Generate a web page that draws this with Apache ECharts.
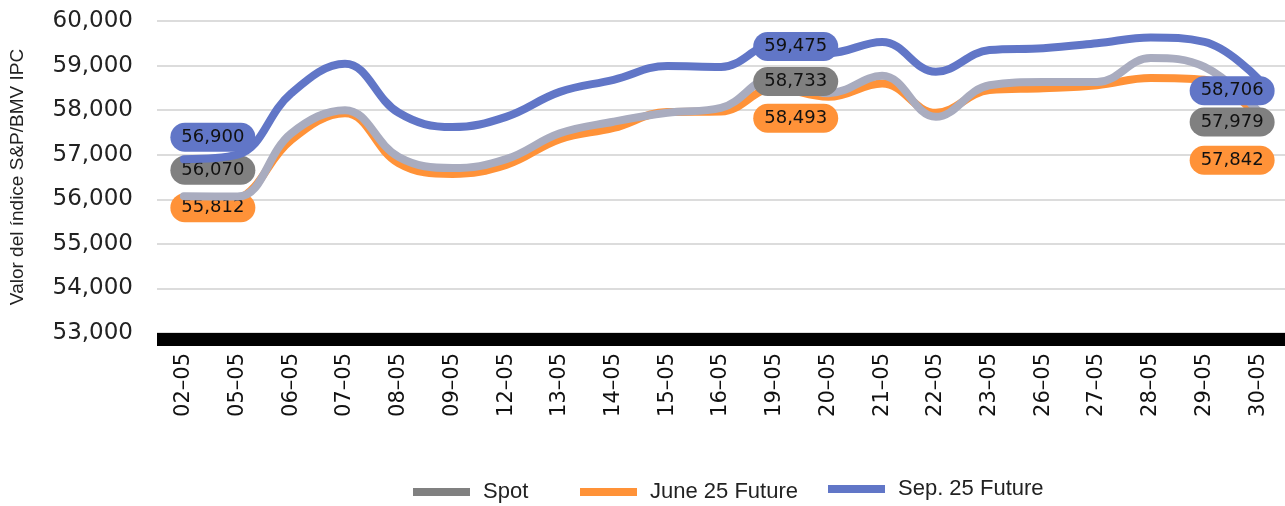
<!DOCTYPE html>
<html>
<head>
<meta charset="utf-8">
<script src="https://cdn.jsdelivr.net/npm/echarts@6/dist/echarts.min.js"></script>
<style>
html,body{margin:0;padding:0;background:#fff;}
#chart{width:1285px;height:506px;}
</style>
</head>
<body>
<div id="chart"></div>
<script>
const dates = ['02–05','05–05','06–05','07–05','08–05','09–05','12–05','13–05','14–05','15–05','16–05','19–05','20–05','21–05','22–05','23–05','26–05','27–05','28–05','29–05','30–05'];
const spot = [56070, 56060, 57480, 58000, 56950, 56700, 56900, 57480, 57740, 57940, 58050, 58733, 58380, 58770, 57850, 58560, 58630, 58630, 59170, 58970, 57979];
const june25 = [55812, 55990, 57330, 57930, 56810, 56570, 56770, 57350, 57600, 57960, 57970, 58493, 58300, 58600, 57940, 58450, 58490, 58560, 58720, 58680, 57842];
const sep25 = [56900, 57000, 58380, 59040, 57940, 57620, 57850, 58410, 58680, 58990, 58970, 59475, 59280, 59530, 58860, 59350, 59390, 59500, 59630, 59530, 58706];
const yTicks = [53000, 54000, 55000, 56000, 57000, 58000, 59000, 60000];
const seriesNames = ['Spot', 'June 25 Future', 'Sep. 25 Future'];

const COL = {
  spotLine: '#A9ACBF', spotTag: '#808080',
  june: '#FF9238', sep: '#6176C7'
};
const labelIdx = [0, 11, dates.length - 1];
const offsets = {
  spot: [[29, -26], [21, 4], [-26, 11]],
  june: [[29, 0], [21, 30], [-26, 43]],
  sep: [[29, -22], [21, 2], [-26, 12]]
};
function fmt(v) { return v.toLocaleString('en-US'); }
function buildData(values, offs, bg) {
  return values.map((v, i) => {
    const k = labelIdx.indexOf(i);
    if (k < 0) return v;
    return {
      value: v,
      label: {
        show: true, position: 'inside', offset: offs[k],
        formatter: p => fmt(p.value),
        backgroundColor: bg, borderRadius: 15,
        padding: [5, 11], lineHeight: 19,
        color: '#111', fontFamily: 'DejaVu Sans', fontSize: 18
      }
    };
  });
}
function lineSeries(name, values, lineColor, tagColor, offs, z) {
  return {
    name: name, type: 'line', smooth: 0.4, z: z,
    symbol: 'circle', symbolSize: 0.1, showSymbol: true,
    itemStyle: { color: tagColor },
    lineStyle: { color: lineColor, width: 8, cap: 'round', join: 'round' },
    label: { show: false },
    emphasis: { disabled: true },
    data: buildData(values, offs, tagColor)
  };
}
function legendAt(name, color, left, top) {
  return {
    data: [{ name: name, itemStyle: { color: color } }],
    left: left, top: top, padding: 0,
    icon: 'rect', itemWidth: 57, itemHeight: 8,
    selectedMode: false,
    textStyle: { fontFamily: 'Liberation Sans', fontSize: 22, color: '#222', padding: [0, 0, 0, 8] }
  };
}
const chart = echarts.init(document.getElementById('chart'), null, { renderer: 'canvas' });
chart.setOption({
  animation: false,
  backgroundColor: '#fff',
  grid: { left: 157, right: 0, top: 21, bottom: 173, containLabel: false },
  legend: [
    legendAt(seriesNames[0], COL.spotTag, 413, 481),
    legendAt(seriesNames[1], COL.june, 580, 481),
    legendAt(seriesNames[2], COL.sep, 828, 478)
  ],
  xAxis: {
    type: 'category', data: dates, boundaryGap: true, offset: 6,
    axisLine: { show: true, lineStyle: { color: '#000', width: 13, cap: 'butt' } },
    axisTick: { show: false },
    axisLabel: { rotate: 90, margin: 14, interval: 0, fontFamily: 'DejaVu Sans', fontSize: 21, color: '#111' }
  },
  yAxis: {
    type: 'value', min: yTicks[0], max: yTicks[yTicks.length - 1], interval: 1000,
    name: 'Valor del índice S&P/BMV IPC', nameLocation: 'middle', nameGap: 130,
    nameTextStyle: { fontFamily: 'Liberation Sans', fontSize: 19, color: '#222' },
    axisLine: { show: false }, axisTick: { show: false },
    axisLabel: { margin: 24, fontFamily: 'DejaVu Sans', fontSize: 23, color: '#222', formatter: v => fmt(v) },
    splitLine: { show: true, lineStyle: { color: '#DCDCDC', width: 2 } }
  },
  series: [
    lineSeries(seriesNames[1], june25, COL.june, COL.june, offsets.june, 2),
    lineSeries(seriesNames[0], spot, COL.spotLine, COL.spotTag, offsets.spot, 3),
    lineSeries(seriesNames[2], sep25, COL.sep, COL.sep, offsets.sep, 4)
  ]
});
</script>
</body>
</html>
